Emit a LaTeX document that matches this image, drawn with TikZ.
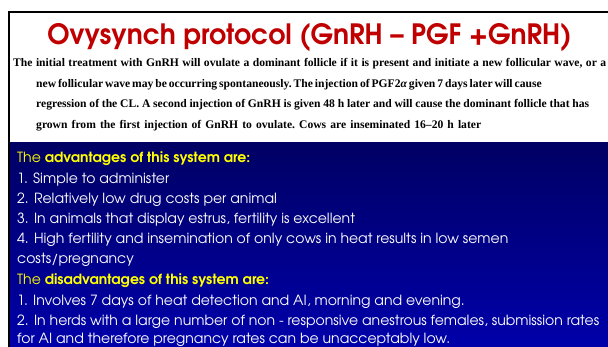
\documentclass[tikz,border=0pt]{standalone}
\usepackage{fontspec}
\setmainfont{Liberation Serif}
\newfontfamily\gothic{texgyreadventor}[Extension=.otf, UprightFont=*-regular, BoldFont=*-bold]
\newfontfamily\gothictitle{texgyreadventor}[Extension=.otf, UprightFont=*-bold, FakeStretch=0.955]
\definecolor{titlered}{RGB}{192,0,0}
\definecolor{navytop}{RGB}{0,0,100}
\definecolor{navybottom}{RGB}{0,0,170}
\definecolor{headyellow}{RGB}{255,255,0}
% one line of the description, spread to a given width
\newcommand{\spreadline}[2]{\makebox[#1pt][s]{#2}}
\begin{document}
\begin{tikzpicture}[x=1pt,y=-1pt,
  para/.style={anchor=base west, inner sep=0pt, font=\frenchspacing\bfseries\fontsize{11.6}{14}\selectfont},
  item/.style={anchor=base west, inner sep=0pt, text=white, font=\gothic\fontsize{14.05}{16}\selectfont},
  heading/.style={item, text=headyellow}]
\useasboundingbox (0,0) rectangle (608,347);
\clip (0,0) rectangle (608,347);
\fill[white] (0,0) rectangle (608,347);
% blue lower panel
\shade[top color=navytop, bottom color=navybottom] (10,143) rectangle (608,347);
% frame
\draw[line width=2pt] (9,347) -- (9,12) -- (608,12);
% title
\node[anchor=base, inner sep=0pt, text=titlered, font=\gothictitle\fontsize{28}{34}\selectfont]
  (title) at (309.5,45) {Ovysynch protocol (GnRH – PGF +GnRH)};
% description
\node[para] (p1) at (13,67) {\spreadline{593}{The initial treatment with GnRH will ovulate a dominant follicle if it is present and initiate a new follicular wave, or a}};
\node[para] (p2) at (36,87.5) {\spreadline{496}{new follicular wave may be occurring spontaneously. The injection of PGF2{\itshape α} given 7 days later will cause}};
\node[para] (p3) at (36,108) {\spreadline{553}{regression of the CL. A second injection of GnRH is given 48 h later and will cause the dominant follicle that has}};
\node[para] (p4) at (36,128.5) {\spreadline{445}{grown from the first injection of GnRH to ovulate. Cows are inseminated 16–20 h later}};
% advantages
\node[heading] (advhead) at (17,163) {The \textbf{advantages of this system are:}};
\node[item] (adv1) at (17,184) {1. Simple to administer};
\node[item] (adv2) at (17,204) {2. Relatively low drug costs per animal};
\node[item] (adv3) at (17,224) {3. In animals that display estrus, fertility is excellent};
\node[item] (adv4) at (17,244) {4. High fertility and insemination of only cows in heat results in low semen};
\node[item] (adv4b) at (17,264) {costs/pregnancy};
% disadvantages
\node[heading] (dishead) at (17,285) {The \textbf{disadvantages of this system are:}};
\node[item] (dis1) at (17,306) {1. Involves 7 days of heat detection and AI, morning and evening.};
\node[item] (dis2) at (17,326) {2. In herds with a large number of non - responsive anestrous females, submission rates};
\node[item] (dis2b) at (17,344) {for AI and therefore pregnancy rates can be unacceptably low.};
\end{tikzpicture}
\end{document}
